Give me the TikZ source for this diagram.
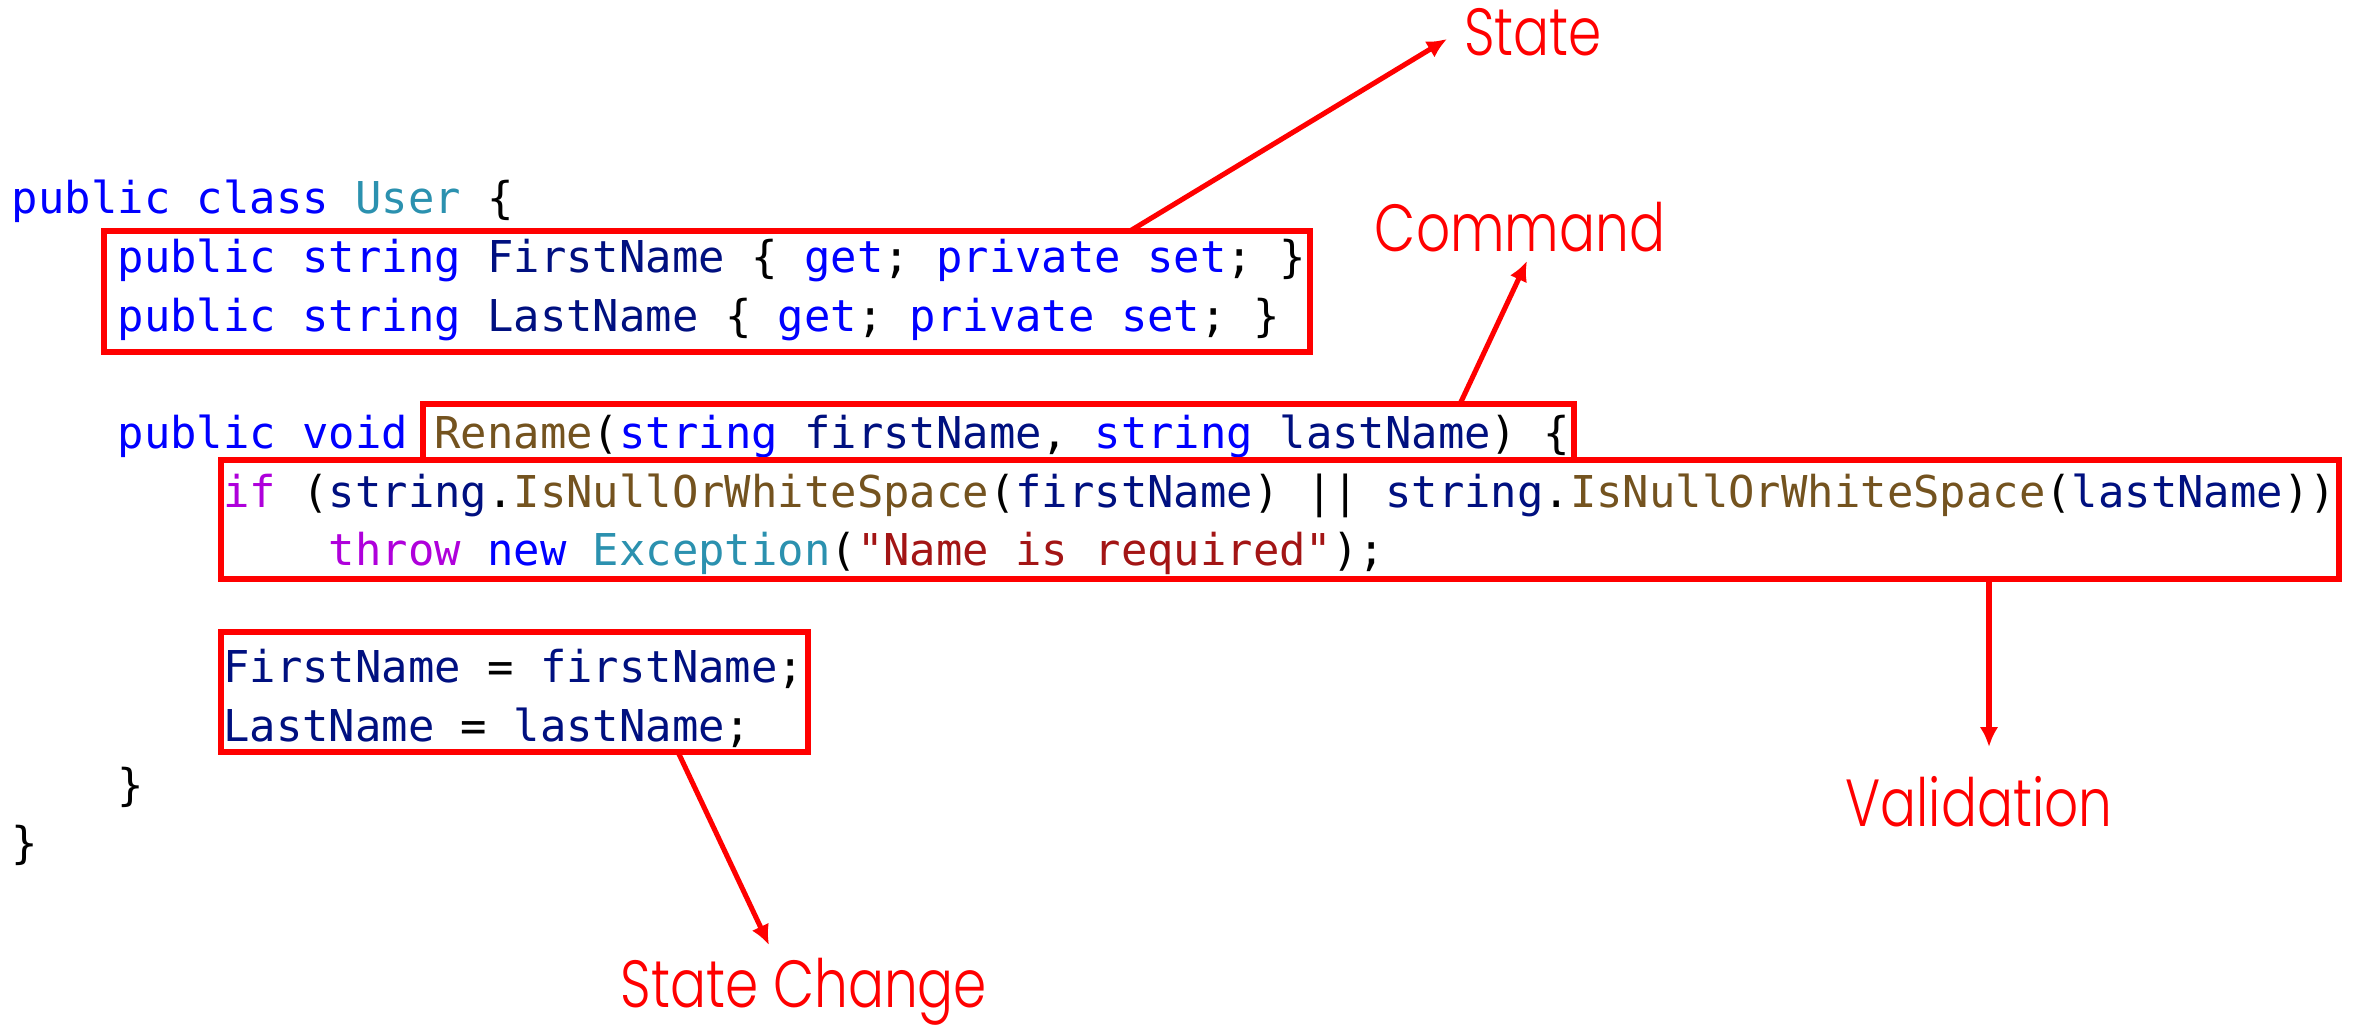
\documentclass[tikz,border=0pt]{standalone}
\usepackage{fontspec}
\setmonofont{DejaVu Sans Mono}
\newfontfamily\lblfont{Poppins}[UprightFont=* Light, FakeStretch=0.8]
\usetikzlibrary{arrows.meta,fit,calc}
\definecolor{kwc}{RGB}{0,0,255}
\definecolor{idc}{RGB}{0,16,128}
\definecolor{tyc}{RGB}{43,145,175}
\definecolor{mec}{RGB}{116,83,31}
\definecolor{ctc}{RGB}{175,0,219}
\definecolor{stc}{RGB}{163,21,21}
\definecolor{hlc}{RGB}{255,0,0}
\newcommand\ckw[1]{\textcolor{kwc}{#1}}
\newcommand\cid[1]{\textcolor{idc}{#1}}
\newcommand\cty[1]{\textcolor{tyc}{#1}}
\newcommand\cme[1]{\textcolor{mec}{#1}}
\newcommand\cct[1]{\textcolor{ctc}{#1}}
\newcommand\cst[1]{\textcolor{stc}{#1}}
\frenchspacing
\tikzset{
  codeline/.style={anchor=base west, inner sep=0pt, outer sep=0pt, font={\ttfamily\fontsize{32.9}{40}\selectfont}},
  hlbox/.style={draw=hlc, line width=4.5pt, inner sep=0pt, outer sep=0pt},
  lbl/.style={text=hlc, anchor=base, inner sep=0pt, font={\lblfont\fontsize{50}{60}\selectfont}},
  arr/.style={draw=hlc, line width=3.8pt, -{Latex[length=15pt,width=14pt]}}
}
\begin{document}
\begin{tikzpicture}[x=0.75pt,y=-0.75pt]
\useasboundingbox (0,0) rectangle (2356,1030);
\fill[white] (0,0) rectangle (2356,1030);
% code
\node[codeline] (l0) at (12,214) {\ckw{public class} \cty{User} \{};
\node[codeline] (l1) at (117.6,272.6) {\ckw{public string} \cid{FirstName} \{ \ckw{get}; \ckw{private set}; \}};
\node[codeline] (l2) at (117.6,331.2) {\ckw{public string} \cid{LastName} \{ \ckw{get}; \ckw{private set}; \}};
\node[codeline] (l4) at (117.6,448.4) {\ckw{public void} \cme{Rename}(\ckw{string} \cid{firstName}, \ckw{string} \cid{lastName}) \{};
\node[codeline] (l5) at (223.2,507) {\cct{if} (\cid{string}.\cme{IsNullOrWhiteSpace}(\cid{firstName}) || \cid{string}.\cme{IsNullOrWhiteSpace}(\cid{lastName}))};
\node[codeline] (l6) at (328.8,565.6) {\cct{throw} \ckw{new} \cty{Exception}(\cst{"Name is required"});};
\node[codeline] (l8) at (223.2,682.8) {\cid{FirstName} = \cid{firstName};};
\node[codeline] (l9) at (223.2,741.4) {\cid{LastName} = \cid{lastName};};
\node[codeline] (l10) at (117.6,800) {\}};
\node[codeline] (l11) at (12,858.6) {\}};
% boxes
\node[hlbox, fit={(104,231) (1310,352)}] (stbox) {};
\node[hlbox, fit={(423,404) (1574,460)}] (cmdbox) {};
\node[hlbox, fit={(221,460) (2339,579)}] (valbox) {};
\node[hlbox, fit={(221,632) (808,752)}] (scbox) {};
% labels
\node[lbl] (stlbl) at (1533,56) {State};
\node[lbl] (cmdlbl) at (1520,252) {Command};
\node[lbl] (vallbl) at (1979,826) {Validation};
\node[lbl] (sclbl) at (804,1007) {State Change};
% arrow tips
\coordinate (sttip) at (1447,39);
\coordinate (cmdtip) at (1527,261);
\coordinate (valtip) at (1989,747);
\coordinate (sctip) at (769,945);
% arrows
\draw[arr] ($(stbox.north west)+(1026,0)$) -- (sttip);
\draw[arr] ($(cmdbox.north west)+(1037,0)$) -- (cmdtip);
\draw[arr] ($(valbox.south west)+(1768,0)$) -- (valtip);
\draw[arr] ($(scbox.south west)+(457,0)$) -- (sctip);
\end{tikzpicture}
\end{document}
